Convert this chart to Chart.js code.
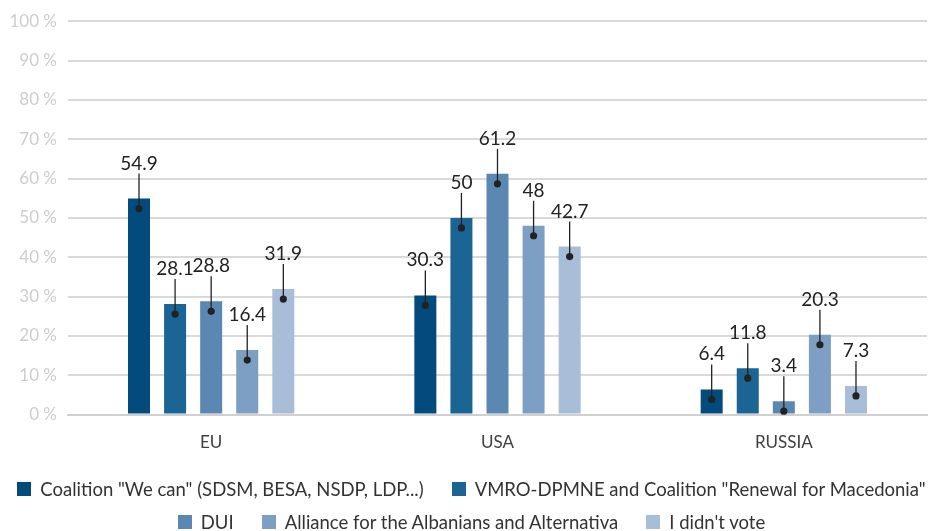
<!DOCTYPE html>
<html>
<head>
<meta charset="utf-8">
<script src="https://cdn.jsdelivr.net/npm/chart.js@4"></script>
<style>
  html, body { margin: 0; padding: 0; background: #fff; }
  #wrap { position: relative; width: 943px; height: 531px; }
  #c { position: absolute; left: 0; top: 0; }
  #legend { position: absolute; left: 0; top: 472px; width: 943px;
    font-family: Lato, "Noto Sans", sans-serif; font-size: 18.5px; color: #333; }
  .row { display: flex; justify-content: center; align-items: center; height: 33px; }
  .item { display: flex; align-items: center; margin: 0 14px; white-space: nowrap; }
  .box { width: 14px; height: 14px; margin-right: 9px; }
</style>
</head>
<body>
<div id="wrap">
  <canvas id="c" width="943" height="483"></canvas>
  <div id="legend"></div>
</div>
<script>
// categories and series
const categories = ['EU', 'USA', 'RUSSIA'];
const seriesNames = [
  'Coalition "We can" (SDSM, BESA, NSDP, LDP...)',
  'VMRO-DPMNE and Coalition "Renewal for Macedonia"',
  'DUI',
  'Alliance for the Albanians and Alternativa',
  "I didn't vote"
];
const weCan = [54.9, 30.3, 6.4];
const vmro = [28.1, 50, 11.8];
const dui = [28.8, 61.2, 3.4];
const alliance = [16.4, 48, 20.3];
const didntVote = [31.9, 42.7, 7.3];
const colors = ['#034a7d', '#1b6595', '#5b88b2', '#7e9fc4', '#a7bdd8'];
const legendRows = [[0, 1], [2, 3, 4]];

const FONT = 'Lato, "Noto Sans", sans-serif';

// callout: dot inside bar top, line up, value above
const callouts = {
  id: 'callouts',
  afterDatasetsDraw(chart) {
    const ctx = chart.ctx;
    ctx.save();
    chart.data.datasets.forEach((ds, i) => {
      const meta = chart.getDatasetMeta(i);
      meta.data.forEach((bar, j) => {
        const x = bar.x, top = bar.y;
        ctx.strokeStyle = '#222';
        ctx.lineWidth = 1.3;
        ctx.beginPath();
        ctx.moveTo(x, top + 10);
        ctx.lineTo(x, top - 25);
        ctx.stroke();
        ctx.fillStyle = '#222';
        ctx.beginPath();
        ctx.arc(x, top + 10, 3.6, 0, Math.PI * 2);
        ctx.fill();
        ctx.font = '19px ' + FONT;
        ctx.textAlign = 'center';
        ctx.textBaseline = 'alphabetic';
        ctx.fillText(String(ds.data[j]), x, top - 29);
      });
    });
    ctx.restore();
  }
};

const chart = new Chart(document.getElementById('c'), {
  type: 'bar',
  data: {
    labels: categories,
    datasets: [weCan, vmro, dui, alliance, didntVote].map((d, i) => ({
      label: seriesNames[i],
      data: d,
      backgroundColor: colors[i],
      categoryPercentage: 0.63,
      barPercentage: 0.61
    }))
  },
  options: {
    responsive: false,
    animation: false,
    layout: { padding: { top: 6, right: 16, left: 0, bottom: 20 } },
    plugins: {
      tooltip: { enabled: false },
      legend: { display: false }
    },
    scales: {
      x: {
        grid: { display: false },
        border: { color: '#d0d0d0', width: 2 },
        ticks: { color: '#404040', padding: 10, font: { family: FONT, size: 17 } }
      },
      y: {
        min: 0,
        max: 100,
        afterFit(scale) { scale.width = 68; },
        grid: { color: '#d9d9d9', lineWidth: 2, drawTicks: false },
        border: { display: false },
        ticks: {
          stepSize: 10,
          padding: 11,
          color: '#cdcdcd',
          font: { family: FONT, size: 17 },
          callback: v => v + ' %'
        }
      }
    }
  },
  plugins: [callouts]
});

// legend in two fixed rows, as in the original
const legend = document.getElementById('legend');
legendRows.forEach(row => {
  const r = document.createElement('div');
  r.className = 'row';
  row.forEach(i => {
    const it = document.createElement('div');
    it.className = 'item';
    const b = document.createElement('span');
    b.className = 'box';
    b.style.background = chart.data.datasets[i].backgroundColor;
    const t = document.createElement('span');
    t.textContent = chart.data.datasets[i].label;
    it.appendChild(b);
    it.appendChild(t);
    r.appendChild(it);
  });
  legend.appendChild(r);
});
</script>
</body>
</html>
